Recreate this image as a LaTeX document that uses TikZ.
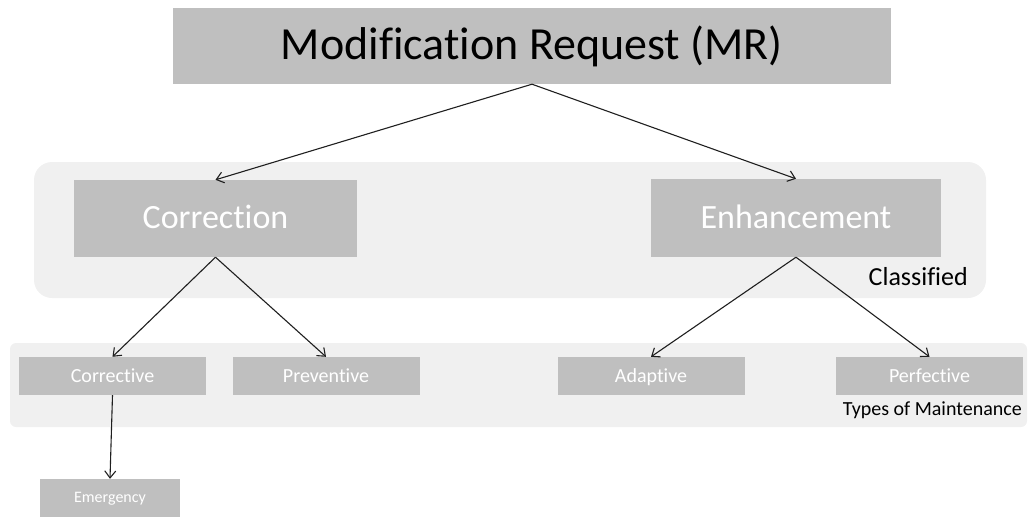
\documentclass[tikz,border=0pt]{standalone}
\usepackage{fontspec}
\setmainfont{Carlito}[Ligatures=NoCommon]
\usetikzlibrary{arrows.meta}
\definecolor{boxgray}{HTML}{BFBFBF}
\definecolor{bggray}{HTML}{F0F0F0}
\begin{document}
\begin{tikzpicture}[x=1pt,y=-1pt,
  box/.style={fill=boxgray,draw=none,text=white,inner sep=0pt,anchor=center},
  bigbox/.style={box,font=\fontsize{34}{36}\selectfont,text height=26.5pt,text depth=6.1pt},
  smallbox/.style={box,font=\fontsize{20}{22}\selectfont,text height=15.6pt,text depth=3.6pt,minimum width=187pt,minimum height=38pt},
  panel/.style={fill=bggray,draw=none,inner sep=0pt},
  conn/.style={draw=black!88,line width=1.1pt,-{Straight Barb[length=7pt,width=11pt,line width=1.1pt]}},
  lbl/.style={inner sep=0pt,text=black}
]
\useasboundingbox (0,0) rectangle (1029,517);
% panels
\node[panel,rounded corners=18pt,minimum width=952pt,minimum height=136pt] (classpanel) at (510,230) {};
\node[panel,rounded corners=6pt,minimum width=1017pt,minimum height=84pt] (typepanel) at (518.5,385) {};
% main box
\node[box,text=black,font=\fontsize{46}{50}\selectfont,text height=36pt,text depth=8.3pt,minimum width=718pt,minimum height=76pt] (mr) at (532,46) {Modification Request (MR)};
\node[bigbox,minimum width=283pt,minimum height=77pt] (corr) at (215.5,218.5) {Correction};
\node[bigbox,minimum width=290pt,minimum height=78pt] (enh) at (796,218) {Enhancement};
\node[smallbox] (corrective) at (112.5,376) {Corrective};
\node[smallbox] (preventive) at (326,376) {Preventive};
\node[smallbox] (adaptive) at (651,376) {Adaptive};
\node[smallbox] (perfective) at (929.5,376) {Perfective};
\node[box,font=\fontsize{16}{18}\selectfont,text height=12.5pt,text depth=2.9pt,minimum width=140pt,minimum height=38pt] (emerg) at (110,498) {Emergency};
% labels
\node[lbl,anchor=east,font=\fontsize{26}{28}\selectfont] (classlbl) at (968,277) {Classified};
\node[lbl,anchor=east,font=\fontsize{20}{22}\selectfont] (typelbl) at (1022,410) {Types of Maintenance};
% connectors
\draw[conn] (mr.south) -- (corr.north);
\draw[conn] (mr.south) -- (enh.north);
\draw[conn] (corr.south) -- (corrective.north);
\draw[conn] (corr.south) -- (preventive.north);
\draw[conn] (enh.south) -- (adaptive.north);
\draw[conn] (enh.south) -- (perfective.north);
\draw[conn] (corrective.south) -- (emerg.north);
\end{tikzpicture}
\end{document}
